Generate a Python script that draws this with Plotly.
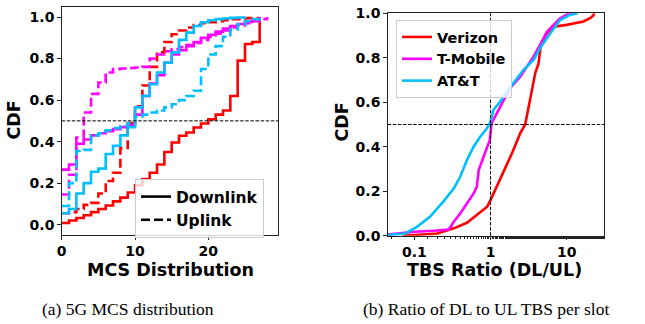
import plotly.graph_objects as go

# ---------------- Left panel: MCS CDF (step curves, MCS index 0..N) ----------------
vz_dl = [0.008, 0.02, 0.032, 0.045, 0.06, 0.075, 0.092, 0.112, 0.13, 0.155, 0.19, 0.22, 0.25, 0.29,
         0.35, 0.396, 0.428, 0.444, 0.468, 0.487, 0.508, 0.53, 0.55, 0.62, 0.79, 0.87, 0.88, 1.0]
vz_ul = [0.055, 0.06, 0.075, 0.095, 0.105, 0.15, 0.21, 0.25, 0.37, 0.49, 0.57, 0.67, 0.76, 0.83,
         0.88, 0.917, 0.935, 0.95, 0.962, 0.97, 0.975, 0.98, 0.985, 0.99, 0.99, 0.995, 0.995, 1.0]
tm_dl = [0.265, 0.29, 0.39, 0.41, 0.43, 0.44, 0.45, 0.46, 0.47, 0.48, 0.53, 0.62, 0.68, 0.72,
         0.78, 0.82, 0.84, 0.86, 0.88, 0.9, 0.915, 0.93, 0.945, 0.957, 0.967, 0.977, 0.987, 1.0]
tm_ul = [0.145, 0.24, 0.42, 0.54, 0.63, 0.685, 0.733, 0.749, 0.752, 0.755, 0.757, 0.76, 0.8, 0.82,
         0.835, 0.845, 0.855, 0.865, 0.875, 0.89, 0.905, 0.92, 0.935, 0.95, 0.96, 0.97, 0.98, 0.99, 1.0]
att_dl = [0.055, 0.075, 0.15, 0.2, 0.255, 0.27, 0.34, 0.38, 0.43, 0.47, 0.565, 0.62, 0.676, 0.733,
          0.78, 0.83, 0.89, 0.925, 0.957, 0.975, 0.985, 0.99, 0.993, 0.996, 0.998, 1.0]
att_ul = [0.09, 0.2, 0.355, 0.36, 0.43, 0.44, 0.455, 0.465, 0.475, 0.49, 0.52, 0.53, 0.54, 0.55,
          0.565, 0.58, 0.6, 0.62, 0.645, 0.75, 0.82, 0.86, 0.905, 0.94, 0.965, 0.98, 0.99, 1.0]

# ---------------- Right panel: TBS ratio CDF ----------------
vz_ratio = [0.07, 0.108, 0.2, 0.33, 0.49, 0.66, 0.9, 1.0, 1.21, 1.48, 1.91, 2.45, 2.85, 3.3, 3.86,
            4.27, 4.6, 5.5, 6.7, 10, 16.6, 20.3, 22.4, 23]
vz_cdf = [0.0, 0.003, 0.01, 0.033, 0.058, 0.093, 0.13, 0.16, 0.22, 0.288, 0.37, 0.46, 0.5, 0.61, 0.73,
          0.775, 0.865, 0.91, 0.94, 0.948, 0.963, 0.978, 0.99, 1.0]
tm_ratio = [0.045, 0.1, 0.18, 0.28, 0.3, 0.33, 0.4, 0.47, 0.51, 0.6, 0.66, 0.7, 0.81, 0.9, 0.98, 1.03,
            1.21, 1.48, 1.8, 2.45, 3.67, 4.6, 5.5, 8.2, 10.5, 13]
tm_cdf = [0.005, 0.018, 0.022, 0.028, 0.04, 0.063, 0.1, 0.138, 0.153, 0.19, 0.22, 0.295, 0.355, 0.4,
          0.43, 0.505, 0.55, 0.61, 0.663, 0.715, 0.805, 0.865, 0.917, 0.978, 0.997, 1.0]
att_ratio = [0.045, 0.076, 0.108, 0.16, 0.24, 0.33, 0.4, 0.49, 0.6, 0.73, 0.9, 1.0, 1.09, 1.34, 1.64,
             2.0, 2.7, 3.67, 4.6, 6.1, 8.2, 11.1, 14]
att_cdf = [0.003, 0.01, 0.04, 0.085, 0.153, 0.213, 0.265, 0.34, 0.4, 0.445, 0.483, 0.513, 0.565, 0.603,
           0.648, 0.685, 0.745, 0.79, 0.85, 0.91, 0.97, 0.993, 1.0]

carriers = ["Verizon", "T-Mobile", "AT&T"]
colors = ["#ff0000", "#ff00ff", "#00bfff"]
link_labels = ["Downlink", "Uplink"]
x_ticks_left = [0, 10, 20]
y_ticks = [0.0, 0.2, 0.4, 0.6, 0.8, 1.0]
x_ticks_right = [0.1, 1, 10]
x_ticks_right_text = ["0.1", "1", "10"]
captions = ["(a) 5G MCS distribution", "(b) Ratio of DL to UL TBS per slot"]

FONT = "DejaVu Sans"
LW = 2.6
DASH = "9px,4px"

fig = go.Figure()

left_series = [(vz_dl, vz_ul), (tm_dl, tm_ul), (att_dl, att_ul)]
for (dl, ul), col in zip(left_series, colors):
    fig.add_trace(go.Scatter(x=list(range(len(dl))), y=dl, mode="lines", line=dict(color=col, width=LW, shape="hv"),
                             showlegend=False, xaxis="x", yaxis="y"))
    fig.add_trace(go.Scatter(x=list(range(len(ul))), y=ul, mode="lines",
                             line=dict(color=col, width=LW, shape="hv", dash=DASH),
                             showlegend=False, xaxis="x", yaxis="y"))

# legend entries left (black)
fig.add_trace(go.Scatter(x=[None], y=[None], mode="lines", name="<b>" + link_labels[0] + "</b>",
                         line=dict(color="black", width=LW), legend="legend", xaxis="x", yaxis="y"))
fig.add_trace(go.Scatter(x=[None], y=[None], mode="lines", name="<b>" + link_labels[1] + "</b>",
                         line=dict(color="black", width=LW, dash=DASH), legend="legend", xaxis="x", yaxis="y"))

right_series = [(vz_ratio, vz_cdf), (tm_ratio, tm_cdf), (att_ratio, att_cdf)]
for (xr, yr), col, name in zip(right_series, colors, carriers):
    fig.add_trace(go.Scatter(x=xr, y=yr, mode="lines", name="<b>" + name + "</b>",
                             line=dict(color=col, width=LW), legend="legend2", xaxis="x2", yaxis="y2"))

tickfont = dict(family=FONT, size=14, color="black", weight="bold")
axis_common = dict(showline=True, linecolor="#222", linewidth=1, mirror=True, ticks="outside",
                   ticklen=3.5, tickwidth=0.8, tickcolor="#222", showgrid=False, zeroline=False,
                   tickfont=tickfont, automargin=False)

fig.update_layout(
    width=645, height=324, margin=dict(l=0, r=0, t=0, b=0, autoexpand=False),
    paper_bgcolor="white", plot_bgcolor="white",
    xaxis=dict(domain=[61.7 / 645, 278 / 645], range=[0, 29.5], tickvals=x_ticks_left, anchor="y", **axis_common),
    yaxis=dict(domain=[(324 - 235) / 324, (324 - 6.7) / 324], range=[-0.05, 1.05], tickvals=y_ticks,
               tickformat=".1f", anchor="x", **axis_common),
    xaxis2=dict(domain=[387.7 / 645, 604 / 645], type="log", range=[-1.35, 1.49], tickvals=x_ticks_right,
                ticktext=x_ticks_right_text, anchor="y2",
                minor=dict(ticks="outside", ticklen=2, tickwidth=0.6, tickcolor="#222"), **axis_common),
    yaxis2=dict(domain=[(324 - 235.7) / 324, (324 - 13.3) / 324], range=[0, 1], tickvals=y_ticks,
                tickformat=".1f", anchor="x2", **axis_common),
    legend=dict(x=135 / 645, y=(324 - 179) / 324, xanchor="left", yanchor="top",
                bgcolor="rgba(255,255,255,0.8)", bordercolor="#cccccc", borderwidth=1,
                font=dict(family=FONT, size=15.5, color="black"), tracegroupgap=0, itemwidth=30),
    legend2=dict(x=396 / 645, y=(324 - 20) / 324, xanchor="left", yanchor="top",
                 bgcolor="rgba(255,255,255,0.8)", bordercolor="#cccccc", borderwidth=1,
                 font=dict(family=FONT, size=14.5, color="black"), tracegroupgap=0, itemwidth=30),
    showlegend=True,
)

# reference dashed lines
ref = dict(color="black", width=1, dash="3.5px,1.6px")
fig.add_shape(type="line", xref="x domain", yref="y", x0=0, x1=1, y0=0.5, y1=0.5, line=ref)
fig.add_shape(type="line", xref="x2 domain", yref="y2", x0=0, x1=1, y0=0.5, y1=0.5, line=ref)
fig.add_shape(type="line", xref="x2", yref="y2 domain", x0=1, x1=1, y0=0, y1=1, line=ref)

title_font = dict(family=FONT, size=17.5, color="black", weight="bold")
ann = [
    dict(text="MCS Distribution", x=170 / 645, y=1 - 270 / 324, font=title_font),
    dict(text="TBS Ratio (DL/UL)", x=494 / 645, y=1 - 270 / 324, font=title_font),
    dict(text="CDF", x=13.5 / 645, y=1 - 120 / 324, font=title_font, textangle=-90),
    dict(text="CDF", x=341.5 / 645, y=1 - 122 / 324, font=title_font, textangle=-90),
    dict(text=captions[0], x=128 / 645, y=1 - 309 / 324,
         font=dict(family="Liberation Serif", size=17.5, color="black")),
    dict(text=captions[1], x=486 / 645, y=1 - 309 / 324,
         font=dict(family="Liberation Serif", size=17.5, color="black")),
]
for a in ann:
    fig.add_annotation(xref="paper", yref="paper", showarrow=False, xanchor="center", yanchor="middle", **a)

fig.write_html("out.html")
